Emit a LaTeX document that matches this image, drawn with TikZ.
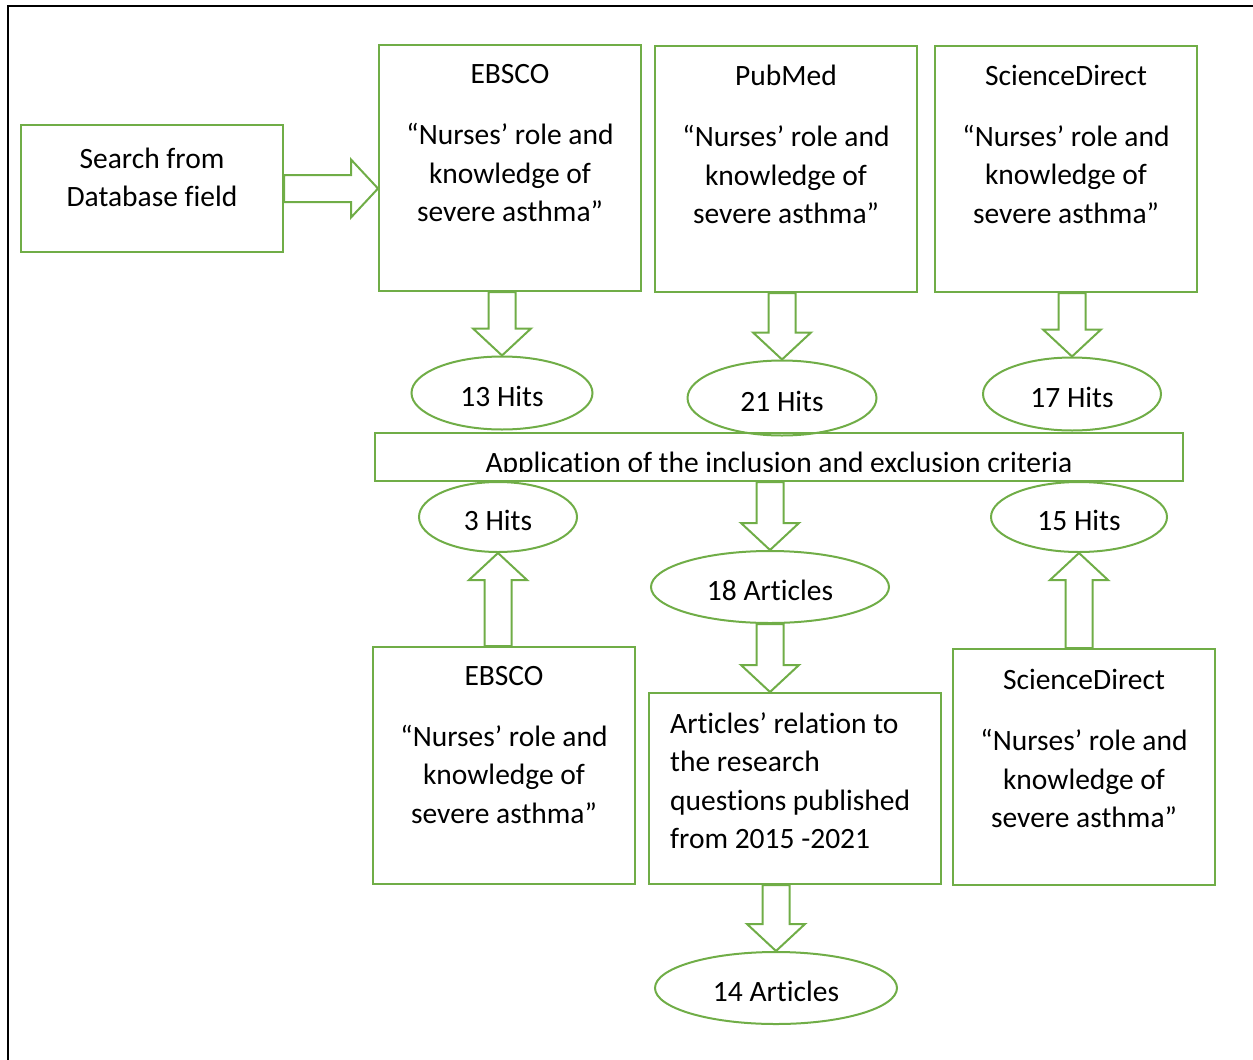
\documentclass[tikz,border=0pt]{standalone}
\usepackage{fontspec}
\setmainfont{Carlito}[Ligatures=NoCommon]
\usetikzlibrary{calc,shapes.geometric}
\definecolor{grn}{HTML}{70AD47}
\tikzset{
  box/.style={draw=grn, line width=2pt, rectangle, inner sep=0pt},
  oval/.style={draw=grn, line width=2pt, ellipse, inner sep=0pt, text height=27pt, text depth=0pt, font=\fontsize{29.5}{38.5}\selectfont},
  txt/.style={inner sep=0pt, align=center, font=\fontsize{29.5}{38.5}\selectfont},
  blockarrow/.style={draw=grn, line width=2pt, line join=miter, to path={
    let \p1=(\tikztostart), \p2=(\tikztotarget),
        \n1={atan2(\y2-\y1,\x2-\x1)}, \n2={veclen(\x2-\x1,\y2-\y1)} in
    ($(\p1)+(\n1+90:13.5)$) -- ($(\p1)+(\n1:\n2-27)+(\n1+90:13.5)$)
    -- ($(\p1)+(\n1:\n2-27)+(\n1+90:29)$) -- (\p2)
    -- ($(\p1)+(\n1:\n2-27)+(\n1-90:29)$) -- ($(\p1)+(\n1:\n2-27)+(\n1-90:13.5)$)
    -- ($(\p1)+(\n1-90:13.5)$) -- cycle}}
}
\begin{document}
\begin{tikzpicture}[x=1pt,y=1pt]
\useasboundingbox (0,0) rectangle (1253,-1060);
% page frame
\draw[line width=2.5pt] (1253,-6) -- (8,-6) -- (8,-1060);

% boxes
\node[box, minimum width=262, minimum height=127] (search) at (152,-188.5) {};
\node[txt] (tsearch) at (152,-177.5) {Search from\\Database field};

\node[box, minimum width=262, minimum height=246] (eb1) at (510,-168) {};
\node[box, minimum width=262, minimum height=246] (pm) at (786,-169) {};
\node[box, minimum width=262, minimum height=246] (sd1) at (1066,-169) {};
\node[txt, anchor=north] (teb1) at ($(eb1.north)+(0,-20.5)$) {EBSCO\\[22.5pt]“Nurses’ role and\\knowledge of\\severe asthma”};
\node[txt, anchor=north] (tpm) at ($(pm.north)+(0,-20)$) {PubMed\\[22.5pt]“Nurses’ role and\\knowledge of\\severe asthma”};
\node[txt, anchor=north] (tsd1) at ($(sd1.north)+(0,-20)$) {ScienceDirect\\[22.5pt]“Nurses’ role and\\knowledge of\\severe asthma”};

% top ellipses
\node[oval, minimum width=181, minimum height=73] (h13) at (502,-393) {13 Hits};
\node[oval, minimum width=189, minimum height=75] (h21) at (782,-398) {21 Hits};
\node[oval, minimum width=178, minimum height=73] (h17) at (1072,-394) {17 Hits};

% banner
\node[box, minimum width=808, minimum height=48] (ban) at (779,-457) {};
\begin{scope}
  \clip (376,-434) rectangle (1182,-471.5);
  \node[txt, anchor=base] (tban) at (779,-472) {Application of the inclusion and exclusion criteria};
\end{scope}

% lower ellipses
\node[oval, minimum width=158, minimum height=70] (h3) at (498,-517) {3 Hits};
\node[oval, minimum width=176, minimum height=70] (h15) at (1079,-517) {15 Hits};
\node[oval, minimum width=238, minimum height=72] (a18) at (770,-587) {18 Articles};
\node[oval, minimum width=242, minimum height=72] (a14) at (776,-988) {14 Articles};

% lower boxes
\node[box, minimum width=262, minimum height=237] (eb2) at (504,-765.5) {};
\node[box, minimum width=292, minimum height=191] (art) at (795,-788.5) {};
\node[box, minimum width=262, minimum height=236] (sd2) at (1084,-767) {};
\node[txt, anchor=north] (teb2) at ($(eb2.north)+(0,-20)$) {EBSCO\\[22.5pt]“Nurses’ role and\\knowledge of\\severe asthma”};
\node[txt, anchor=north] (tsd2) at ($(sd2.north)+(0,-21)$) {ScienceDirect\\[22.5pt]“Nurses’ role and\\knowledge of\\severe asthma”};
\node[txt, align=left, anchor=north west] (tart) at (670,-712) {Articles’ relation to\\the research\\questions published\\from 2015 -2021};

% block arrows
\draw[blockarrow] (search.east) to (eb1.west |- search.east);
\draw[blockarrow] (eb1.south -| h13.north) to (h13.north);
\draw[blockarrow] (pm.south -| h21.north) to (h21.north);
\draw[blockarrow] (sd1.south -| h17.north) to (h17.north);
\draw[blockarrow] (ban.south -| a18.north) to (a18.north);
\draw[blockarrow] (a18.south) to (a18.south |- art.north);
\draw[blockarrow] (art.south -| a14.north) to (a14.north);
\draw[blockarrow] (eb2.north -| h3.south) to (h3.south);
\draw[blockarrow] (sd2.north -| h15.south) to (h15.south);
\end{tikzpicture}
\end{document}
